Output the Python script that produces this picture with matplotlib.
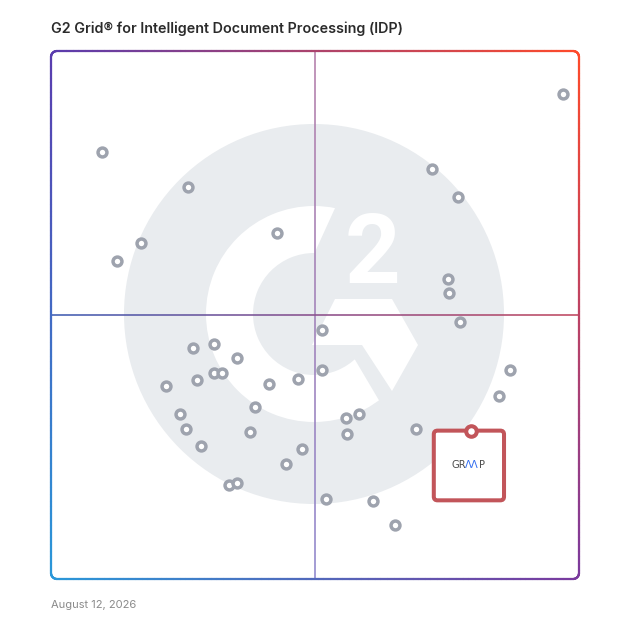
import numpy as np
import matplotlib.pyplot as plt
from matplotlib.collections import LineCollection
from matplotlib.colors import to_rgb
from matplotlib.patches import Circle, FancyBboxPatch, Polygon, Wedge

# G2 grid scores, 0-100 on both axes (x: satisfaction, y: market presence)
x_vals = [97.0, 9.7, 26.0, 72.1, 77.0, 17.1, 12.5, 42.8, 75.2, 75.4,
          77.5, 51.3, 26.8, 30.9, 35.3, 86.9, 21.7, 27.7, 30.9, 32.3,
          41.2, 46.8, 51.3, 84.8, 38.6, 24.4, 25.6, 37.7, 55.8, 58.4,
          56.1, 69.1, 28.4, 47.5, 44.5, 33.8, 35.2, 52.1, 61.0, 65.2]
y_vals = [91.9, 80.9, 74.2, 77.7, 72.3, 63.6, 60.2, 65.6, 56.8, 54.2,
          48.7, 47.2, 43.8, 44.5, 41.9, 39.6, 36.6, 37.7, 39.0, 39.1,
          36.9, 37.9, 39.6, 34.7, 32.6, 31.3, 28.4, 27.8, 30.4, 31.3,
          27.4, 28.4, 25.1, 24.6, 21.7, 17.8, 18.1, 15.2, 14.8, 10.2]
gramp_x = 79.5
gramp_y = 28.1

title = "G2 Grid\u00ae for Intelligent Document Processing (IDP)"
date_label = "August 12, 2026"

W = 628
BOX0, BOX1 = 51, 579
S = (BOX1 - BOX0) / 100.0  # pixels per grid unit


def d(px, py):
    # pixel position -> grid units (used only for the background logo)
    return ((px - BOX0) / S, (BOX1 - py) / S)


fig = plt.figure(figsize=(W / 100, W / 100), dpi=100)
ax = fig.add_axes([BOX0 / W, (W - BOX1) / W, (BOX1 - BOX0) / W, (BOX1 - BOX0) / W])
ax.set_xlim(0, 100)
ax.set_ylim(0, 100)
ax.axis("off")

# faint G2 watermark
logo_gray = "#E9ECEF"
ax.add_patch(Circle(d(314, 314), 190 / S, facecolor=logo_gray, edgecolor="none", zorder=0))
ax.add_patch(Wedge(d(314, 314), 108 / S, 0, 360, width=47 / S,
                   facecolor="white", edgecolor="none", zorder=1))
gap = [d(341, 195), d(440, 195), d(440, 430), d(396.5, 430), d(328, 314), d(286.7, 314)]
ax.add_patch(Polygon(gap, closed=True, facecolor=logo_gray, edgecolor="none", zorder=2))
chevron = [d(335, 299), d(392, 299), d(418, 345), d(392, 391), d(362, 345), d(312, 345)]
ax.add_patch(Polygon(chevron, closed=True, facecolor="white", edgecolor="none", zorder=3))
tx, ty = d(372.5, 283)
ax.text(tx, ty, "2", color="white", fontsize=70, fontweight="bold",
        family=["Roboto", "DejaVu Sans"], ha="center", va="baseline", zorder=3)

# gradient frame
TL, TR = np.array(to_rgb("#5A3CAE")), np.array(to_rgb("#FF4A2A"))
BL, BR = np.array(to_rgb("#2A98D9")), np.array(to_rgb("#7A3A9E"))


def corner_mix(x, y):
    u, v = x / 100.0, y / 100.0
    return (1 - u) * (1 - v) * BL + u * (1 - v) * BR + (1 - u) * v * TL + u * v * TR


r = 6 / S
pts = []
for (x0, y0, x1, y1, cx, cy, a0) in [
    (r, 0, 100 - r, 0, 100 - r, r, -90),
    (100, r, 100, 100 - r, 100 - r, 100 - r, 0),
    (100 - r, 100, r, 100, r, 100 - r, 90),
    (0, 100 - r, 0, r, r, r, 180),
]:
    t = np.linspace(0, 1, 300)
    pts += list(zip(x0 + (x1 - x0) * t, y0 + (y1 - y0) * t))
    a = np.radians(np.linspace(a0, a0 + 90, 20))
    pts += list(zip(cx + r * np.cos(a), cy + r * np.sin(a)))
pts.append(pts[0])
pts = np.array(pts)
segs = np.stack([pts[:-1], pts[1:]], axis=1)
mids = (pts[:-1] + pts[1:]) / 2
cols = [corner_mix(mx, my) for mx, my in mids]
frame = LineCollection(segs, colors=cols, linewidths=1.6, capstyle="round", zorder=8)
frame.set_clip_on(False)
ax.add_collection(frame)


def gradient_line(p0, p1, stops, lw):
    t = np.linspace(0, 1, 300)
    xs = p0[0] + (p1[0] - p0[0]) * t
    ys = p0[1] + (p1[1] - p0[1]) * t
    pos = np.linspace(0, 1, len(stops))
    rgb = np.array([to_rgb(c) for c in stops])
    tm = (t[:-1] + t[1:]) / 2
    c = np.column_stack([np.interp(tm, pos, rgb[:, k]) for k in range(3)])
    p = np.column_stack([xs, ys])
    lc = LineCollection(np.stack([p[:-1], p[1:]], axis=1), colors=c,
                        linewidths=lw, capstyle="butt", zorder=4)
    ax.add_collection(lc)


gradient_line((50, 0), (50, 100), ["#8E86CC", "#A07FB8", "#B47DA9"], 1.15)
gradient_line((0, 50), (100, 50), ["#3D5CB3", "#8A4F8C", "#C0465E"], 1.15)

# vendors
ax.plot(x_vals, y_vals, "o", ms=6.4, mfc="white", mec="#9EA3AE", mew=2.5,
        ls="none", zorder=5)

# highlighted vendor callout
ax.add_patch(FancyBboxPatch((gramp_x - 7.0, gramp_y - 13.2), 13.3, 13.2,
                            boxstyle="round,pad=0,rounding_size=0.7",
                            facecolor="white", edgecolor="#C2555A", lw=2.9, zorder=6))
ax.plot([gramp_x], [gramp_y], "o", ms=7.6, mfc="white", mec="#C2555A", mew=2.9, zorder=7)
ty_txt = gramp_y - 37.6 / S
ax.text(gramp_x - 5.0 / S, ty_txt, "GR", ha="right", va="baseline", fontsize=7.2,
        color="#4A4A4A", zorder=7)
ax.text(gramp_x + 1.5 / S, ty_txt, "\u039b\u039b", ha="center", va="baseline", fontsize=7.2,
        color="#2F6BF0", zorder=7)
ax.text(gramp_x + 8.5 / S, ty_txt, "P", ha="left", va="baseline", fontsize=7.2,
        color="#4A4A4A", zorder=7)

fig.text(BOX0 / W, 1 - 33 / W, title, fontsize=10.3, fontweight="semibold",
         family=["Inter", "DejaVu Sans"], color="#2B2B2B", ha="left", va="baseline")
fig.text(BOX0 / W, 1 - 607.5 / W, date_label, fontsize=8, family=["Inter", "DejaVu Sans"],
         color="#8A8A8A", ha="left", va="baseline")

fig.savefig("out.png", dpi=100, facecolor="white")
